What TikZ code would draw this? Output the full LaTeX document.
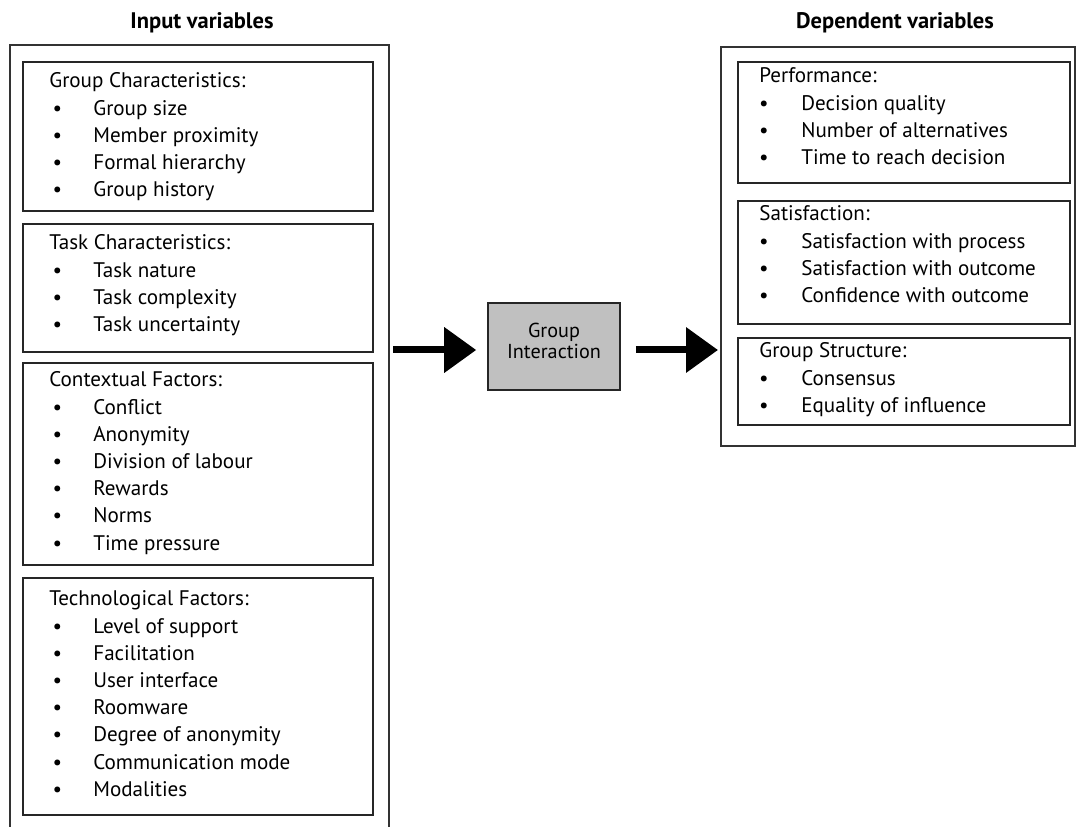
\documentclass[tikz,border=0pt]{standalone}
\usepackage{fontspec}
\setmainfont{PT Sans}
\usetikzlibrary{arrows.meta}
\definecolor{boxgray}{RGB}{192,192,192}

\begin{document}
\begin{tikzpicture}[x=0.02cm, y=0.02cm,
		outer/.style={draw=black!80, line width=0.7pt},
		panel/.style={draw=black!85, line width=0.9pt},
		head/.style={inner sep=0pt, font=\bfseries\fontsize{12.8}{15}\selectfont},
		entry/.style={anchor=base west, inner sep=0pt, font=\fontsize{12}{14}\selectfont},
		dot/.style={anchor=base, inner sep=0pt, font=\fontsize{12}{14}\selectfont},
		fat/.style={line width=0.14cm, -{Triangle[length=0.64cm, width=0.88cm]}}]
	\useasboundingbox (0,0) rectangle (1076,-827);
	% headings
	\node[head] (inhead) at (202,-23) {Input variables};
	\node[head] (dephead) at (895,-23) {Dependent variables};

	% input side, frame runs off the bottom
	\draw[outer] (10,-830) -- (10,-45) -- (389,-45) -- (389,-830);
	\coordinate (inR) at (389,-350);

	\draw[panel] (23,-62) rectangle (373,-211);
	\node[entry] (gc) at (49,-88) {Group Characteristics:};
	\foreach \txt [count=\i] in {Group size, Member proximity, Formal hierarchy, Group history} {
		\node[dot] (gc-b\i) at (57.5,-88-27.2*\i) {\textbullet};
		\node[entry] (gc-\i) at (93,-88-27.2*\i) {\txt};
	}

	\draw[panel] (23,-224) rectangle (373,-352);
	\node[entry] (tc) at (49,-250) {Task Characteristics:};
	\foreach \txt [count=\i] in {Task nature, Task complexity, Task uncertainty} {
		\node[dot] (tc-b\i) at (57.5,-250-27.2*\i) {\textbullet};
		\node[entry] (tc-\i) at (93,-250-27.2*\i) {\txt};
	}

	\draw[panel] (23,-363) rectangle (373,-565);
	\node[entry] (cf) at (49,-387) {Contextual Factors:};
	\foreach \txt [count=\i] in {Conflict, Anonymity, Division of labour, Rewards, Norms, Time pressure} {
		\node[dot] (cf-b\i) at (57.5,-387-27.2*\i) {\textbullet};
		\node[entry] (cf-\i) at (93,-387-27.2*\i) {\txt};
	}

	\draw[panel] (23,-578) rectangle (373,-815);
	\node[entry] (tf) at (49,-606) {Technological Factors:};
	\foreach \txt [count=\i] in {Level of support, Facilitation, User interface, Roomware, Degree of anonymity, Communication mode, Modalities} {
		\node[dot] (tf-b\i) at (57.5,-606-27.2*\i) {\textbullet};
		\node[entry] (tf-\i) at (93,-606-27.2*\i) {\txt};
	}

	% middle
	\node[draw=black!85, line width=0.9pt, fill=boxgray, minimum width=2.64cm, minimum height=1.74cm] (gi) at (554,-346.5) {};
	\node[align=center, inner sep=0pt, font=\fontsize{11.5}{12}\selectfont] (gitext) at ([yshift=0.12cm]gi.center) {Group\\Interaction};

	% dependent side
	\draw[outer] (721,-47) rectangle (1075,-446);
	\coordinate (depL) at (721,-350);

	\draw[panel] (738,-62) rectangle (1070,-183);
	\node[entry] (pf) at (759,-83) {Performance:};
	\foreach \txt [count=\i] in {Decision quality, Number of alternatives, Time to reach decision} {
		\node[dot] (pf-b\i) at (764,-83-27.2*\i) {\textbullet};
		\node[entry] (pf-\i) at (801,-83-27.2*\i) {\txt};
	}

	\draw[panel] (738,-201) rectangle (1070,-324);
	\node[entry] (st) at (759,-221) {Satisfaction:};
	\foreach \txt [count=\i] in {Satisfaction with process, Satisfaction with outcome, Confidence with outcome} {
		\node[dot] (st-b\i) at (764,-221-27.2*\i) {\textbullet};
		\node[entry] (st-\i) at (801,-221-27.2*\i) {\txt};
	}

	\draw[panel] (738,-338) rectangle (1070,-425);
	\node[entry] (gs) at (759,-358) {Group Structure:};
	\foreach \txt [count=\i] in {Consensus, Equality of influence} {
		\node[dot] (gs-b\i) at (764,-358-27.2*\i) {\textbullet};
		\node[entry] (gs-\i) at (801,-358-27.2*\i) {\txt};
	}

	% arrows
	\draw[fat, shorten <=0.08cm, shorten >=0.22cm] (inR) -- (gi.west |- inR);
	\draw[fat, shorten <=0.3cm, shorten >=0.06cm] (gi.east |- depL) -- (depL);
\end{tikzpicture}
\end{document}
